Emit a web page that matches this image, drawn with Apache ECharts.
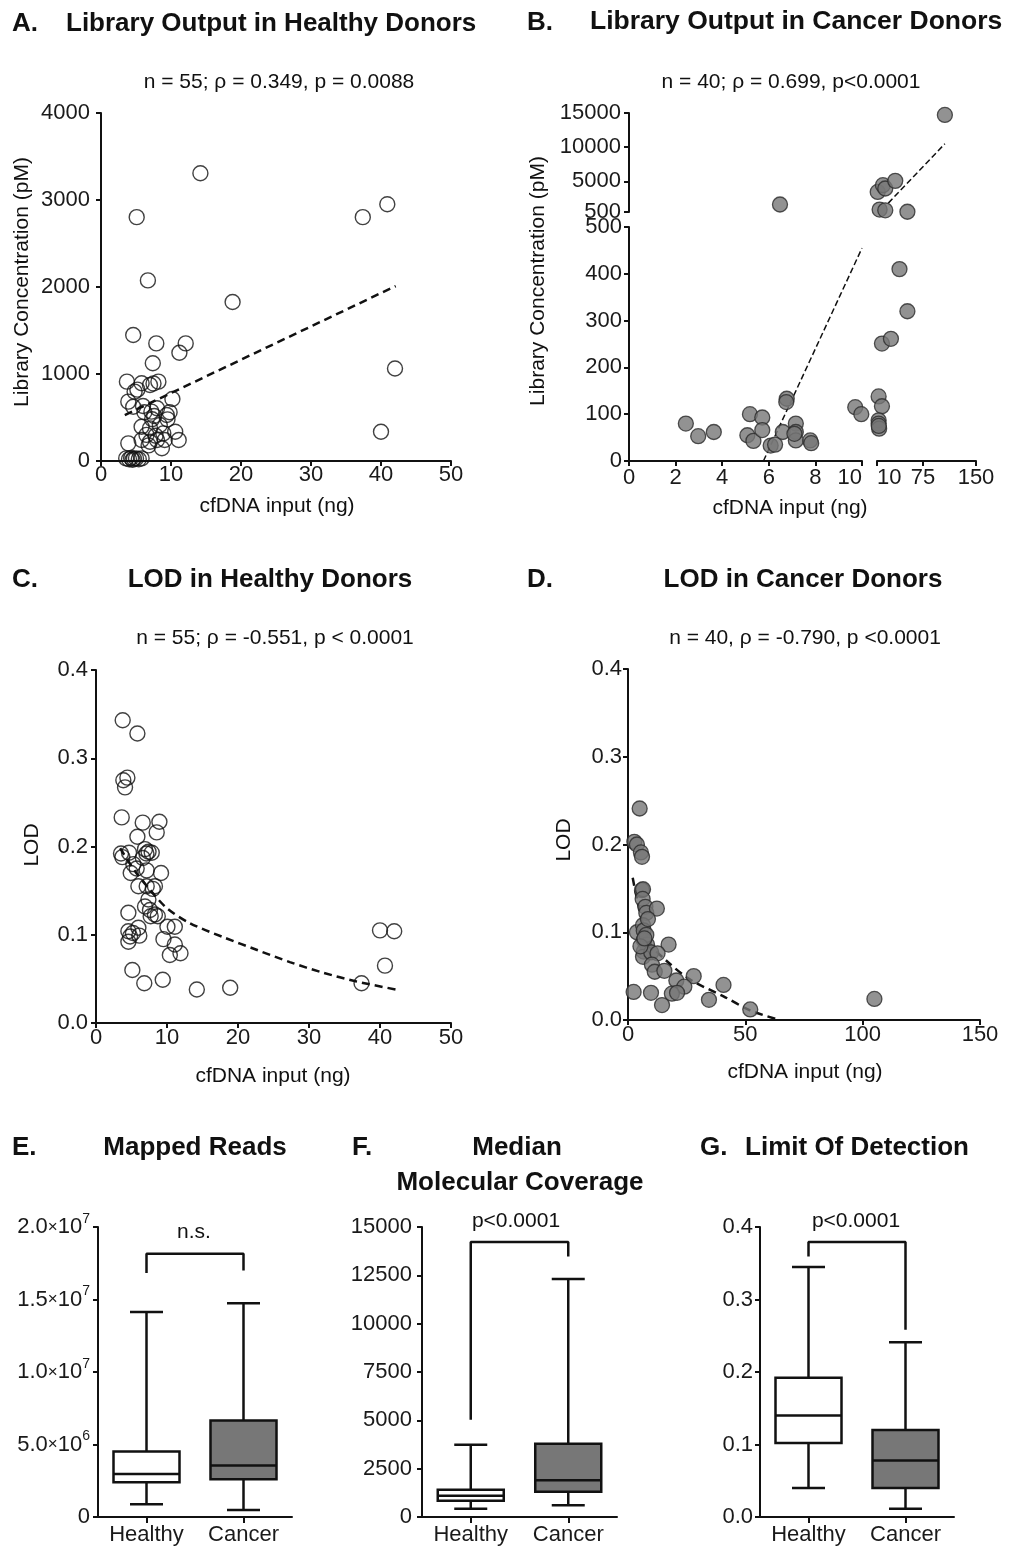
<!DOCTYPE html>
<html>
<head>
<meta charset="utf-8">
<script src="https://cdn.jsdelivr.net/npm/echarts@6/dist/echarts.min.js"></script>
<style>html,body{margin:0;padding:0;background:#fff}#c{width:1011px;height:1551px}</style>
</head>
<body>
<div id="c"></div>
<script>
// ---------- DATA ----------
const aData = [[14.2,3308],[5.1,2803],[37.4,2803],[40.9,2952],[6.7,2076],[18.8,1828],[4.6,1448],[7.9,1352],[12.1,1352],[11.2,1245],[7.4,1123],[42.0,1063],[40.0,336],
[3.7,912],[5.8,893],[7.0,874],[8.2,912],[4.8,797],[7.5,890],[3.9,682],[10.2,713],[4.6,624],[6.0,632],[7.2,567],[8.0,606],[7.6,517],[9.4,529],[9.5,479],[5.8,394],[7.0,375],[8.4,414],[10.6,337],[8.9,318],[5.8,241],[7.0,222],[8.0,241],[9.1,241],[11.1,241],[8.7,146],[3.9,203],[6.5,300],[7.3,480],[6.2,560],[7.8,290],[9.8,560],[5.2,820],[6.8,180],
[3.6,30],[4.0,20],[4.3,35],[4.7,25],[5.0,30],[5.4,20],[5.8,30],[4.5,15]];
const aFit = [[3.4,528],[42.1,2011]];

const bData = [[2.44,80],[2.97,53],[3.64,62],[5.19,100],[5.08,55],[5.34,43],[5.72,93],[5.72,66],[6.08,33],[6.27,35],[6.6,62],[6.77,133],[6.75,126],[7.16,80],[7.16,62],[7.16,44],[7.1,58],[7.78,44],[7.82,38],[9.71,115],[9.97,100],
[6.48,1600],
[12.3,138],[17,117],[12.3,87],[12.3,80],[13,69],[12.5,75],[17,251],[29.7,261],[41.8,410],[53,320],
[11,3440],[18.4,4430],[21.7,3940],[35.8,5060],[13.7,850],[21.7,750],[53,540],[106,14720]];
const bFitLow = [[5.77,0],[10,455]];
const bFitHigh = [[26,1800],[106,10500]];
const bHighYTicks = [500,5000,10000,15000];
const bRightXTicks = [10,75,150];

const cData = [[3.76,0.343],[5.83,0.328],[4.42,0.278],[3.85,0.275],[4.09,0.267],[3.62,0.233],[6.58,0.227],[8.93,0.228],[8.55,0.216],[5.83,0.211],
[3.52,0.192],[3.71,0.188],[4.65,0.193],[6.9,0.197],[7.4,0.194],[7.85,0.193],[7.1,0.192],[5.26,0.180],[5.73,0.175],[4.89,0.170],
[7.14,0.173],[9.16,0.170],[5.97,0.155],[7.14,0.155],[8.3,0.155],[7.38,0.140],[6.9,0.132],[7.7,0.121],[8.3,0.123],[8.7,0.121],
[4.56,0.125],[4.56,0.104],[5.97,0.108],[4.8,0.098],[6.1,0.099],[4.56,0.092],[10.06,0.109],[11.1,0.109],[9.5,0.095],[11.1,0.089],
[10.4,0.077],[11.9,0.079],[5.12,0.060],[6.8,0.045],[9.4,0.049],[14.2,0.038],[18.9,0.040],[37.4,0.045],[40.0,0.105],[42.0,0.104],
[40.7,0.065],[6.6,0.187],[8.0,0.152],[5.2,0.102],[7.6,0.128]];
const cFit = [[3.4,0.198],[5.5,0.172],[7.6,0.151],[10,0.130],[13.25,0.113],[18,0.097],[22.6,0.083],[27.3,0.069],[32,0.057],[36.7,0.047],[42.2,0.038]];

const dData = [[4.97,0.241],[2.7,0.203],[3.8,0.200],[5.5,0.191],[5.96,0.186],[5.96,0.148],[6.4,0.149],[6.24,0.138],[7.4,0.129],[7.8,0.122],
[12.3,0.127],[3.8,0.100],[6.4,0.108],[6.7,0.102],[6.7,0.091],[8.1,0.086],[17.3,0.086],[6.7,0.078],[6.4,0.072],[9.9,0.077],
[12.6,0.076],[10.2,0.063],[11.4,0.055],[15.5,0.056],[28,0.050],[20.6,0.045],[24,0.038],[18.7,0.030],[20.9,0.031],[2.4,0.032],
[9.8,0.031],[14.5,0.017],[34.5,0.023],[40.7,0.040],[52.1,0.012],[105,0.024],[7.8,0.097],[5.3,0.084],[8.5,0.115],[7.0,0.093]];
const dFit = [[2,0.162],[5.2,0.122],[9.5,0.087],[16.6,0.067],[26.5,0.046],[40.7,0.027],[52,0.011],[64.6,0]];

const boxCats = ['Healthy','Cancer'];
// [min, Q1, median, Q3, max]
const mappedReads = [[880000,2390000,2960000,4520000,14130000],[480000,2610000,3560000,6650000,14750000]];
const coverage = [[431,845,1103,1414,3741],[603,1310,1897,3793,12310]];
const lodBox = [[0.040,0.102,0.140,0.192,0.345],[0.0115,0.040,0.078,0.120,0.241]];
// bracket levels: [left end, top, right end]
const bracketE = [1.683e7,1.816e7,1.70e7];
const bracketF = [5033,14224,13479];
const bracketG = [0.3594,0.3793,0.2583];

// ---------- STYLE HELPERS ----------
const FF = '"Liberation Sans", Arial, Helvetica, sans-serif';
const INK = '#111';
const TICKFS = 22;
const plain = v => String(v);
const dec1 = v => v.toFixed(1);
function lbl(margin, extra){
  return Object.assign({color:'#1a1a1a',fontSize:TICKFS,fontFamily:FF,margin:margin,formatter:plain}, extra||{});
}
function axisBase(extra){
  return Object.assign({
    type:'value',
    axisLine:{show:true,onZero:false,lineStyle:{color:INK,width:2}},
    axisTick:{show:true,length:5,lineStyle:{color:INK,width:2}},
    axisLabel:lbl(6),
    splitLine:{show:false}
  }, extra);
}
function hidden(gi, extra){
  return Object.assign({gridIndex:gi,type:'value',show:false,splitLine:{show:false}}, extra);
}
const hollow = {color:'rgba(255,255,255,0)',borderColor:INK,borderWidth:1.4};
const filled = {color:'#777777',borderColor:'#2b2b2b',borderWidth:1.3};
function scatter(xi, data, style){
  return {type:'scatter',xAxisIndex:xi,yAxisIndex:xi,data:data,symbolSize:15,itemStyle:style,z:3,silent:true};
}
function fit(xi, data, w, dash, smooth){
  return {type:'line',xAxisIndex:xi,yAxisIndex:xi,data:data,showSymbol:false,symbol:'none',smooth:smooth||false,
    lineStyle:{color:INK,width:w,type:dash},z:2,silent:true};
}
function boxSeries(xi, data){
  return {type:'custom',xAxisIndex:xi,yAxisIndex:xi,data:data.map((d,i)=>[i].concat(d)),
    encode:{x:0,y:[1,2,3,4,5]},silent:true,
    renderItem:function(params, api){
      const c = api.value(0);
      const p = k => api.coord([c, api.value(k)]);
      const x = p(1)[0];
      const yMin=p(1)[1], yQ1=p(2)[1], yMed=p(3)[1], yQ3=p(4)[1], yMax=p(5)[1];
      const hw=33, cw=16.5;
      const st = {stroke:INK,lineWidth:2.5};
      return {type:'group',children:[
        {type:'line',shape:{x1:x,y1:yQ1,x2:x,y2:yMin},style:st},
        {type:'line',shape:{x1:x-cw,y1:yMin,x2:x+cw,y2:yMin},style:st},
        {type:'line',shape:{x1:x,y1:yQ3,x2:x,y2:yMax},style:st},
        {type:'line',shape:{x1:x-cw,y1:yMax,x2:x+cw,y2:yMax},style:st},
        {type:'rect',shape:{x:x-hw,y:yQ3,width:2*hw,height:yQ1-yQ3},style:{fill:c===0?'#ffffff':'#777777',stroke:INK,lineWidth:2.5}},
        {type:'line',shape:{x1:x-hw,y1:yMed,x2:x+hw,y2:yMed},style:st}
      ]};
    }};
}
function bracket(xi, lv){
  return {type:'line',xAxisIndex:xi,yAxisIndex:xi,showSymbol:false,symbol:'none',silent:true,
    data:[[boxCats[0],lv[0]],[boxCats[0],lv[1]],[boxCats[1],lv[1]],[boxCats[1],lv[2]]],
    lineStyle:{color:INK,width:2.5}};
}
function txt(t, x, y, size, bold, align, rot){
  return {type:'text',x:x,y:y,rotation:rot||0,silent:true,
    style:{text:t,fontSize:size,fontWeight:bold?'bold':'normal',fontFamily:FF,fill:INK,
      align:align||'center',textAlign:align||'center',verticalAlign:'middle',textVerticalAlign:'middle'}};
}

// ---------- GRIDS ----------
const grids = [
  {left:101,top:113,width:350,height:348},   // 0 A
  {left:629,top:227,width:233,height:234},   // 1 B lower-left
  {left:877,top:227,width:99,height:234},    // 2 B lower-right
  {left:629,top:113,width:233,height:99},    // 3 B upper-left
  {left:877,top:113,width:99,height:99},     // 4 B upper-right
  {left:96,top:670,width:355,height:353},    // 5 C
  {left:628,top:669,width:352,height:351},   // 6 D
  {left:98,top:1227,width:194,height:290},   // 7 E
  {left:422,top:1227,width:195,height:290},  // 8 F
  {left:760,top:1227,width:194,height:290}   // 9 G
];

const catX = gi => ({gridIndex:gi,type:'category',data:boxCats,boundaryGap:true,
  axisLine:{show:true,onZero:false,lineStyle:{color:INK,width:2}},
  axisTick:{show:true,alignWithLabel:true,length:6,lineStyle:{color:INK,width:2}},
  axisLabel:{color:'#1a1a1a',fontSize:TICKFS,fontFamily:FF,margin:7},splitLine:{show:false}});

const xAxes = [
  axisBase({gridIndex:0,min:0,max:50,interval:10,axisLabel:lbl(3)}),
  axisBase({gridIndex:1,min:0,max:10,interval:2,axisLabel:lbl(6,{alignMaxLabel:'right'})}),
  axisBase({gridIndex:2,min:10,max:150,axisTick:{show:true,length:5,lineStyle:{color:INK,width:2},customValues:bRightXTicks},
    axisLabel:lbl(6,{customValues:bRightXTicks,alignMinLabel:'left'})}),
  hidden(3,{min:0,max:10}),
  hidden(4,{min:10,max:150}),
  axisBase({gridIndex:5,min:0,max:50,interval:10,axisLabel:lbl(4)}),
  axisBase({gridIndex:6,min:0,max:150,interval:50,axisLabel:lbl(4)}),
  catX(7), catX(8), catX(9)
];
const yAxes = [
  axisBase({gridIndex:0,min:0,max:4000,interval:1000,axisLabel:lbl(11)}),
  axisBase({gridIndex:1,min:0,max:500,interval:100,axisLabel:lbl(7)}),
  hidden(2,{min:0,max:500}),
  axisBase({gridIndex:3,min:500,max:15000,
    axisTick:{show:true,length:5,lineStyle:{color:INK,width:2},customValues:bHighYTicks},
    axisLabel:lbl(8,{customValues:bHighYTicks})}),
  hidden(4,{min:500,max:15000}),
  axisBase({gridIndex:5,min:0,max:0.4,interval:0.1,axisLabel:lbl(8,{formatter:dec1})}),
  axisBase({gridIndex:6,min:0,max:0.4,interval:0.1,axisLabel:lbl(6,{formatter:dec1})}),
  axisBase({gridIndex:7,min:0,max:2e7,interval:5e6,axisLabel:lbl(8,{
    formatter:v=>{ if(v===0) return '0'; const e=v>=1e7?7:6; return (v/Math.pow(10,e)).toFixed(1)+'{x|×}10{s|'+e+'}'; },
    rich:{x:{fontSize:17,fontFamily:FF,color:'#1a1a1a'},s:{fontSize:14,fontFamily:FF,color:'#1a1a1a',padding:[0,0,16,0]}}})}),
  axisBase({gridIndex:8,min:0,max:15000,interval:2500,axisLabel:lbl(10)}),
  axisBase({gridIndex:9,min:0,max:0.4,interval:0.1,axisLabel:lbl(7,{formatter:dec1})})
];

const series = [
  fit(0,aFit,2.5,[8,5]),
  scatter(0,aData,hollow),
  fit(1,bFitLow,1.5,[6,3]),
  fit(4,bFitHigh,1.5,[6,3]),
  scatter(1,bData.filter(d=>d[0]<=10&&d[1]<=500),filled),
  scatter(2,bData.filter(d=>d[0]>10&&d[1]<=500),filled),
  scatter(3,bData.filter(d=>d[0]<=10&&d[1]>500),filled),
  scatter(4,bData.filter(d=>d[0]>10&&d[1]>500),filled),
  fit(5,cFit,2.5,[8,5],0.3),
  scatter(5,cData,hollow),
  fit(6,dFit,2.5,[8,5],0.3),
  scatter(6,dData,filled),
  boxSeries(7,mappedReads), bracket(7,bracketE),
  boxSeries(8,coverage), bracket(8,bracketF),
  boxSeries(9,lodBox), bracket(9,bracketG)
];

const texts = [
  txt('A.',12,24,26,true,'left'), txt('Library Output in Healthy Donors',66,24,26,true,'left'),
  txt('B.',527,23,26,true,'left'), txt('Library Output in Cancer Donors',590,22,26.5,true,'left'),
  txt('n = 55; ρ = 0.349, p = 0.0088',279,82,21,false),
  txt('n = 40; ρ = 0.699, p<0.0001',791,82,21,false),
  txt('Library Concentration (pM)',22,282,21,false,'center',Math.PI/2),
  txt('Library Concentration (pM)',538,281,21,false,'center',Math.PI/2),
  txt('cfDNA input (ng)',277,506,21,false),
  txt('cfDNA input (ng)',790,508,21,false),
  txt('C.',12,580,26,true,'left'), txt('LOD in Healthy Donors',270,580,26,true),
  txt('D.',527,580,26,true,'left'), txt('LOD in Cancer Donors',803,580,26,true),
  txt('n = 55; ρ = -0.551, p < 0.0001',275,638,21,false),
  txt('n = 40, ρ = -0.790, p <0.0001',805,638,21,false),
  txt('LOD',32,845,21,false,'center',Math.PI/2),
  txt('LOD',564,840,21,false,'center',Math.PI/2),
  txt('cfDNA input (ng)',273,1076,21,false),
  txt('cfDNA input (ng)',805,1072,21,false),
  txt('E.',12,1148,26,true,'left'), txt('Mapped Reads',195,1148,26,true),
  txt('F.',352,1148,26,true,'left'), txt('Median',517,1148,26,true), txt('Molecular Coverage',520,1183,26,true),
  txt('G.',700,1148,26,true,'left'), txt('Limit Of Detection',857,1148,26,true),
  txt('n.s.',194,1232,21,false),
  txt('p<0.0001',516,1221,21,false),
  txt('p<0.0001',856,1221,21,false)
];

const chart = echarts.init(document.getElementById('c'), null, {renderer:'canvas'});
chart.setOption({
  backgroundColor:'#ffffff',
  animation:false,
  grid:grids,
  xAxis:xAxes,
  yAxis:yAxes,
  series:series,
  graphic:{elements:texts}
});
</script>
</body>
</html>
